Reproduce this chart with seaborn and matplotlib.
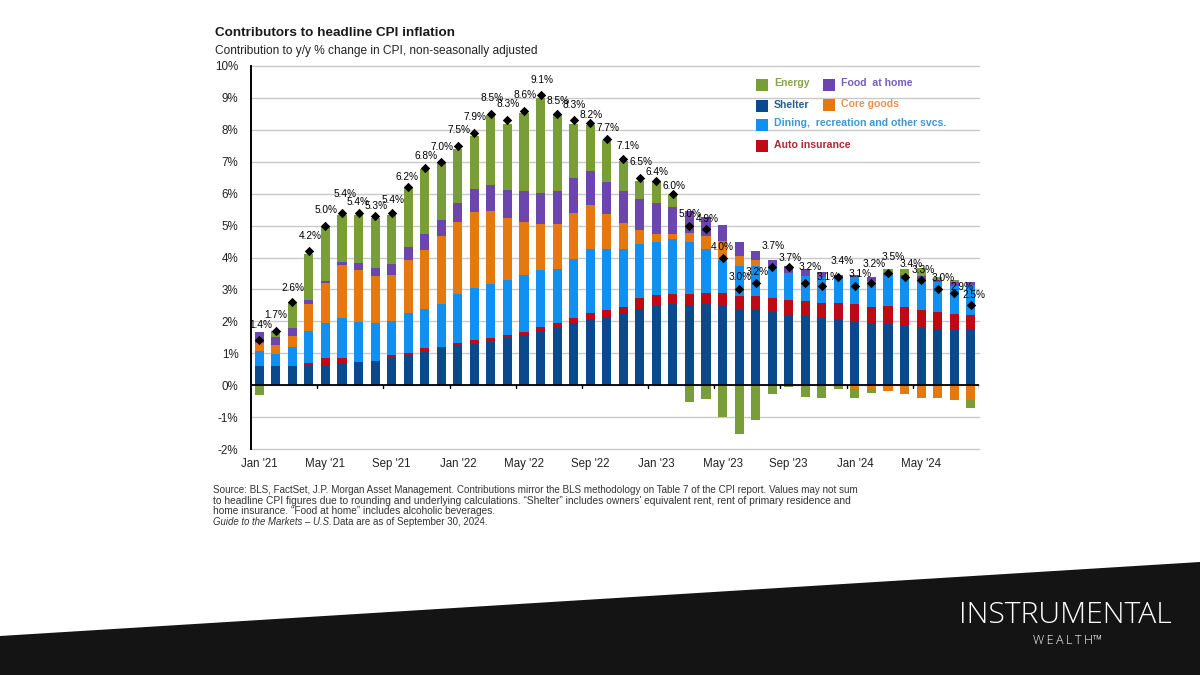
import numpy as np
import matplotlib
matplotlib.use('Agg')
import matplotlib.pyplot as plt
from matplotlib.patches import Polygon, Rectangle
import seaborn as sns

# months, Jan '21 - Aug '24
month_names = ['Jan', 'Feb', 'Mar', 'Apr', 'May', 'Jun', 'Jul', 'Aug', 'Sep', 'Oct', 'Nov', 'Dec']
months = [f"{month_names[i % 12]} '{21 + i // 12}" for i in range(44)]

shelter = [.60, .60, .60, .60, .64, .68, .73, .77, .84, .92, 1.04, 1.15,
           1.25, 1.30, 1.35, 1.47, 1.57, 1.70, 1.80, 1.96, 2.07, 2.15, 2.25, 2.40,
           2.48, 2.53, 2.52, 2.53, 2.51, 2.39, 2.36, 2.30, 2.21, 2.17, 2.11, 2.08,
           2.02, 1.95, 1.91, 1.86, 1.83, 1.75, 1.72, 1.75]
auto = [0, 0, 0, .11, .22, .18, 0, 0, .11, .10, .11, .06,
        .08, .13, .13, .09, .11, .11, .15, .15, .19, .21, .20, .33,
        .34, .33, .34, .36, .38, .39, .42, .44, .47, .47, .47, .50,
        .51, .51, .58, .60, .53, .54, .51, .45]
dining = [.47, .39, .61, .98, 1.09, 1.25, 1.26, 1.18, 1.06, 1.24, 1.25, 1.34,
          1.52, 1.61, 1.68, 1.74, 1.77, 1.79, 1.69, 1.84, 2.02, 1.92, 1.83, 1.70,
          1.67, 1.72, 1.62, 1.38, 1.04, .94, .94, .98, .83, .79, .80, .80,
          .85, .81, .94, .92, .91, .93, .88, .95]
core = [.26, .26, .32, .86, 1.25, 1.65, 1.61, 1.47, 1.44, 1.65, 1.85, 2.11,
        2.26, 2.40, 2.29, 1.93, 1.65, 1.46, 1.40, 1.45, 1.38, 1.08, .81, .43,
        .24, .15, .28, .39, .58, .33, .20, 0, 0, 0, 0, 0,
        -.13, -.13, -.19, -.29, -.41, -.41, -.45, -.45]
food = [.35, .27, .27, .11, .07, .10, .23, .24, .36, .43, .50, .52,
        .59, .70, .81, .87, .97, .96, 1.03, 1.08, 1.04, 1.00, .98, .97,
        .97, .86, .70, .60, .50, .43, .29, .21, .23, .21, .17, .08,
        .08, .11, .07, .08, .14, .09, .11, .09]
energy = [-.30, .18, .81, 1.44, 1.68, 1.48, 1.49, 1.58, 1.51, 1.84, 2.02, 1.82,
          1.71, 1.68, 2.21, 2.09, 2.45, 2.97, 2.38, 1.71, 1.44, 1.33, .96, .58,
          .69, .40, -.52, -.42, -1.01, -1.52, -1.08, -.29, -.06, -.38, -.41, -.13,
          -.28, -.12, .14, .18, .26, .08, .07, -.28]
headline = [1.4, 1.7, 2.6, 4.2, 5.0, 5.4, 5.4, 5.3, 5.4, 6.2, 6.8, 7.0,
            7.5, 7.9, 8.5, 8.3, 8.6, 9.1, 8.5, 8.3, 8.2, 7.7, 7.1, 6.5,
            6.4, 6.0, 5.0, 4.9, 4.0, 3.0, 3.2, 3.7, 3.7, 3.2, 3.1, 3.4,
            3.1, 3.2, 3.5, 3.4, 3.3, 3.0, 2.9, 2.5]

series = [('Shelter', shelter, '#0A4A8C', '#0D4A8A'),
          ('Auto insurance', auto, '#BE0A14', '#A5121F'),
          ('Dining,  recreation and other svcs.', dining, '#1090F0', '#2A8CCC'),
          ('Core goods', core, '#E5780F', '#E0883E'),
          ('Food  at home', food, '#6C45AE', '#6A4CB0'),
          ('Energy', energy, '#7A9E37', '#7A9A3C')]

# pixel nudges of the % labels from their markers
label_dx = [1, 0, 1, 1, 1, 3, 0, 1, 1, -1, 1, 1, 1, 1, 1, 1, 1, 1, 1, 0, 1, 1, 5, 1,
            1, 1, 1, 1, 0, 1, 1, 1, 1, 5, 6, 4, 5, 3, 5, 7, 2, 5, 8, 3]
label_dy = [15, 16, 14, 15, 16, 19, 11, 10, 13, 10, 12, 15, 16, 16, 16, 16, 16, 15,
            13, 15, 8, 11, 13, 16, 9, 8, 12, 10, 11, 12, 11, 21, 9, 16, 9, 16, 12,
            19, 16, 13, 10, 11, 6, 10]

W, H = 1200, 675
sns.set_theme(style='white')
plt.rcParams['font.family'] = ['Liberation Sans', 'DejaVu Sans']

fig = plt.figure(figsize=(W / 100, H / 100), dpi=100, facecolor='white')
ax = fig.add_axes([251 / W, 1 - 449 / H, 728 / W, 383 / H])
ax.set_zorder(2)
ax.patch.set_alpha(0)


def px(x, y):
    return x / W, 1 - y / H


pos_bottom = np.zeros(len(months))
neg_bottom = np.zeros(len(months))
for name, vals, color, _ in series:
    vals = np.array(vals, dtype=float)
    bottom = np.where(vals >= 0, pos_bottom, neg_bottom)
    sns.barplot(x=months, y=vals, bottom=bottom, color=color, saturation=1,
                width=0.55, errorbar=None, linewidth=0, ax=ax, zorder=3)
    pos_bottom += np.clip(vals, 0, None)
    neg_bottom += np.clip(vals, None, 0)

positions = np.arange(len(months))
sns.scatterplot(x=positions, y=headline, marker='D', color='black', s=23,
                linewidth=0, ax=ax, zorder=4, legend=False)
for i, v in enumerate(headline):
    ax.annotate(f'{v:.1f}%', (i, v), xytext=(label_dx[i], label_dy[i]),
                textcoords='offset pixels', ha='center', va='center',
                fontsize=7.3, color='black', zorder=5)

ax.set_xlim(-0.5, len(months) - 0.5)
ax.set_ylim(-2, 10)
ax.set_yticks(range(-2, 11))
ax.set_yticklabels([f'{v}%' for v in range(-2, 11)], fontsize=8.4, color='#222222')
ax.yaxis.grid(True, color='#c9c9c9', linewidth=1)
for gl in ax.get_ygridlines():
    gl.set_clip_on(False)
ax.set_axisbelow(True)
ax.tick_params(axis='y', length=0, pad=9)

# month labels sit under the bars, the tick marks between them
ax.set_xticks(positions[3:][::4] + 0.5)
ax.set_xticklabels([])
ax.tick_params(axis='x', length=0)
for t in ax.get_xticks():
    ax.plot([t, t], [0, -0.1], color='black', lw=1, zorder=5)
for i in range(0, len(months), 4):
    ax.text(i, -2.47, months[i], ha='center', va='center', fontsize=8.3, color='#222222')

for side in ['top', 'right', 'bottom']:
    ax.spines[side].set_visible(False)
ax.spines['left'].set_color('black')
ax.spines['left'].set_linewidth(1.4)
ax.axhline(0, color='black', lw=1.3, zorder=4)

fig.text(*px(215, 33), 'Contributors to headline CPI inflation', fontsize=9.7,
         fontweight='bold', color='#1a1a1a', va='center')
fig.text(*px(215, 51), 'Contribution to y/y % change in CPI, non-seasonally adjusted',
         fontsize=8.6, color='#222222', va='center')

# legend, placed by hand like the original
legend_spots = {'Energy': (756, 85, 774, 83), 'Food  at home': (823, 85, 841, 83),
                'Shelter': (756, 106, 774, 105), 'Core goods': (823, 105, 841, 104),
                'Dining,  recreation and other svcs.': (756, 125, 774, 123),
                'Auto insurance': (756, 146, 774, 145)}
for name, _, color, text_color in series:
    sx, sy, tx, ty = legend_spots[name]
    fx, fy = px(sx, sy + 6)
    fig.patches.append(Rectangle((fx, fy), 12 / W, 12 / H, transform=fig.transFigure,
                                 facecolor=color, edgecolor='none', zorder=6))
    fig.text(*px(tx, ty), name, fontsize=7.6, fontweight='bold', color=text_color,
             va='center', alpha=0.9, zorder=6)

footer = ['Source: BLS, FactSet, J.P. Morgan Asset Management. Contributions mirror the BLS methodology on Table 7 of the CPI report. Values may not sum',
          'to headline CPI figures due to rounding and underlying calculations. “Shelter” includes owners’ equivalent rent, rent of primary residence and',
          'home insurance. “Food at home” includes alcoholic beverages.']
for y, line, size in zip([490, 500.5, 511], footer, [7.15, 7.42, 7.25]):
    fig.text(*px(213, y), line, fontsize=size, color='#333333', va='center')
fig.text(*px(213, 522), 'Guide to the Markets – U.S.', fontsize=6.9, style='italic',
         color='#333333', va='center')
fig.text(*px(333, 522), 'Data are as of September 30, 2024.', fontsize=7.05,
         color='#333333', va='center')

# dark band and logo
band = Polygon([px(0, 636), px(1200, 562), px(1200, 675), px(0, 675)], closed=True,
               transform=fig.transFigure, facecolor='#141414', edgecolor='none', zorder=1)
fig.patches.append(band)
fig.text(*px(1065.5, 615), 'INSTRUMENTAL', fontsize=21.8, family=['Open Sans', 'DejaVu Sans'],
         fontweight='light', color='white', ha='center', va='center', zorder=3)
fig.text(*px(1068, 640), 'W\u2009E\u2009A\u2009L\u2009T\u2009H\u2122', fontsize=9,
         family=['Open Sans', 'DejaVu Sans'], fontweight='light', color='white',
         ha='center', va='center', zorder=3)

fig.savefig('out.png', dpi=100)
